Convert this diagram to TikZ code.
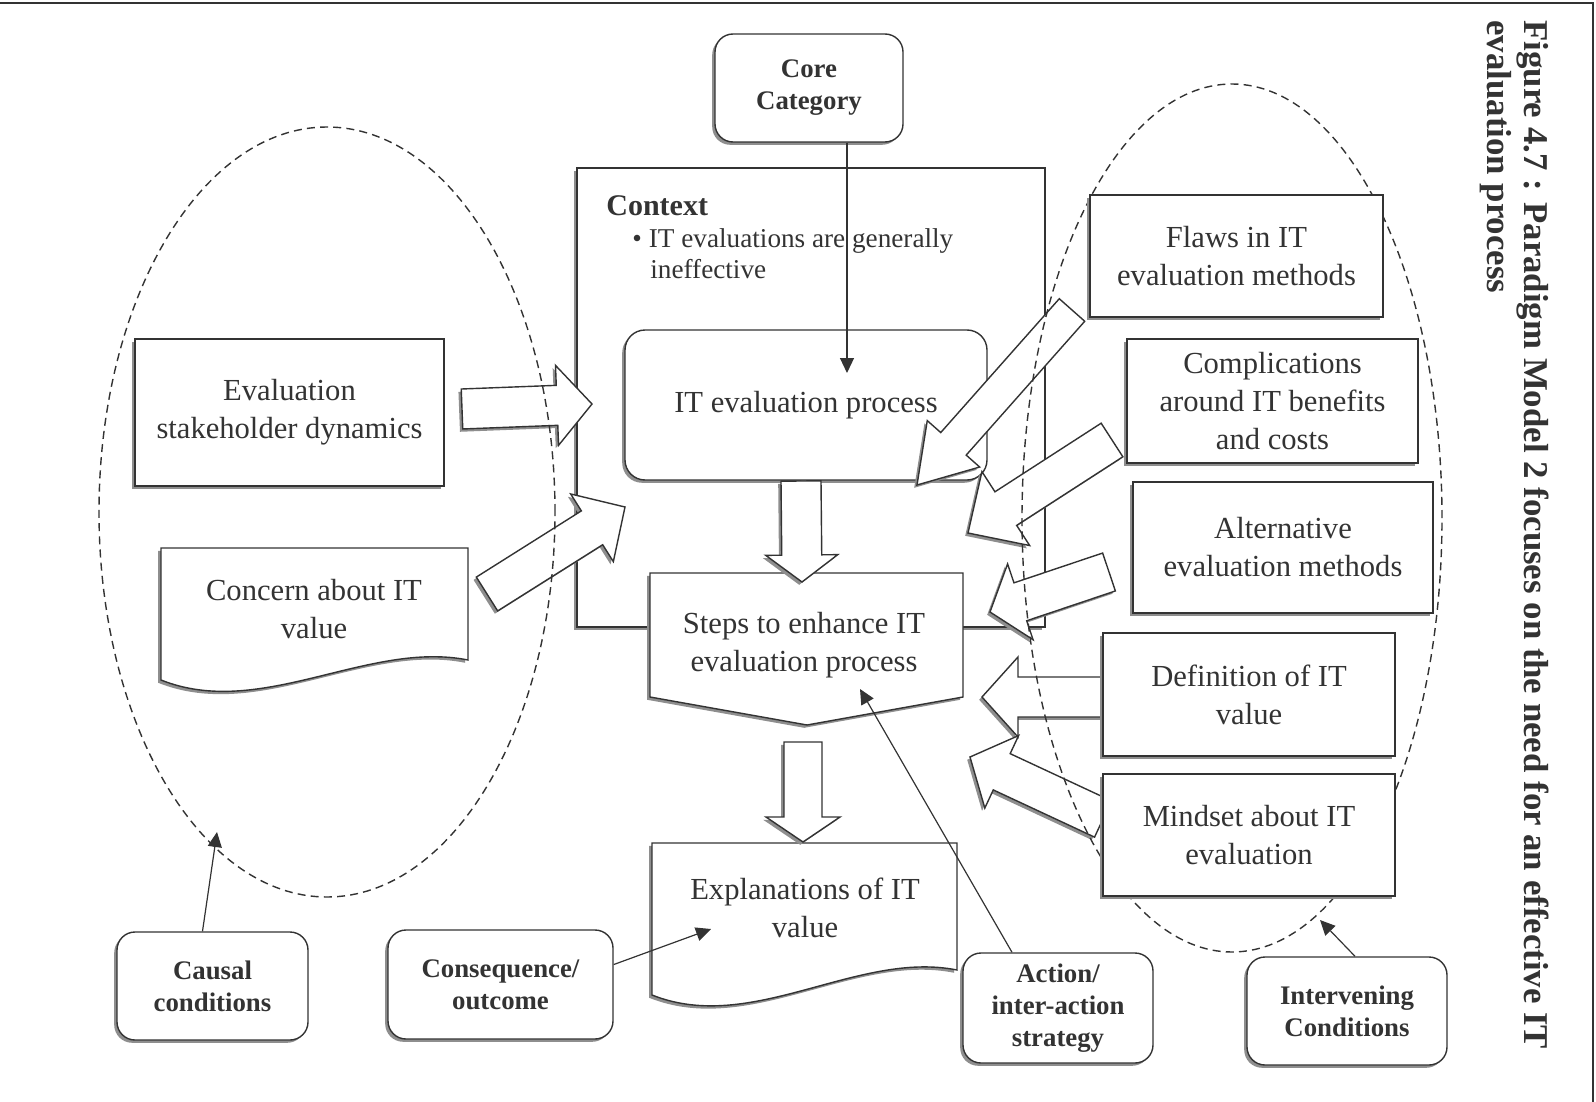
\documentclass[tikz,border=0pt]{standalone}
\usepackage{fontspec}
\setmainfont{Liberation Serif}
\usetikzlibrary{calc,shadows,arrows.meta}

\definecolor{ink}{HTML}{333333}
\definecolor{shade}{HTML}{8E8E8E}

\newcommand{\txtbody}{\fontsize{15.3pt}{19pt}\selectfont}
\newcommand{\txtlabel}{\fontsize{13.4pt}{16pt}\selectfont\bfseries}
\newcommand{\txtbullet}{\fontsize{13.6pt}{15.5pt}\selectfont}
\newcommand{\txtcaption}{\fontsize{17.4pt}{18.5pt}\selectfont\bfseries}

% wide hollow arrow: tail, tip, shaft half width, head half width, head length
\newcommand{\blockarrow}[5]{%
  \coordinate (hb) at ($(#2)!#5!(#1)$);
  \filldraw[outline] ($(#1)!#3!90:(#2)$) -- ($(hb)!#3!90:(#2)$) -- ($(hb)!#4!90:(#2)$)
    -- (#2) -- ($(hb)!#4!-90:(#2)$) -- ($(hb)!#3!-90:(#2)$) -- ($(#1)!#3!-90:(#2)$) -- cycle;
}

\begin{document}
\begin{tikzpicture}[x=0.5pt,y=-0.5pt,
  outline/.style={draw=ink, line width=0.7pt, fill=white,
    drop shadow={shadow xshift=-1.4pt, shadow yshift=-1.4pt, fill=shade, opacity=1}},
  plainbox/.style={outline, align=center, text=ink, font=\txtbody, inner sep=0pt},
  roundbox/.style={plainbox, rounded corners=10pt},
  labelbox/.style={outline, rounded corners=9pt, align=center, text=ink, font=\txtlabel, inner sep=0pt},
  txt/.style={text=ink, align=center, font=\txtbody, inner sep=0pt},
  pointer/.style={draw=ink, line width=0.6pt, -{Triangle[length=7.5pt,width=7pt]}},
  zone/.style={draw=ink, line width=0.7pt, dash pattern=on 4pt off 2.6pt},
]
\useasboundingbox (0,0) rectangle (1596,1102);

% page edges
\draw[ink, line width=1pt] (0,3) -- (1593,3) -- (1593,1102);

% context frame and the central chain
\node[outline, minimum width=234pt, minimum height=229.5pt, inner sep=0pt] (context) at (811,397.5) {};
\node[anchor=base west, text=ink, inner sep=0pt, font=\fontsize{15pt}{18pt}\selectfont\bfseries] (ctxtitle) at (606,215) {Context};
\node[anchor=base west, text=ink, inner sep=0pt, font=\txtbullet] (ctxline1) at (632,247) {•\hspace{3.5pt}IT evaluations are generally};
\node[anchor=base west, text=ink, inner sep=0pt, font=\txtbullet] (ctxline2) at (650,278) {ineffective};

\node[roundbox, minimum width=181pt, minimum height=75pt] (iteval) at (806,405) {IT evaluation process};

\draw[outline] (650,573) -- (963,573) -- (963,697) -- (807,725) -- (650,697) -- cycle;
\node[txt] (steps) at (804,645) {Steps to enhance IT\\evaluation process};

\draw[outline] (652,843) -- (957,843) -- (957,970) .. controls (857,950) and (752,1035) .. (652,995) -- cycle;
\node[txt] (explain) at (805,908) {Explanations of IT\\value};

% hollow arrows
\coordinate (a1s) at (462,409);  \coordinate (a1e) at (592,404);
\coordinate (a2s) at (487,594);  \coordinate (a2e) at (625,507);
\coordinate (a3s) at (801,481);  \coordinate (a3e) at (802,582);
\coordinate (a4s) at (803,742);  \coordinate (a4e) at (803,842);
\coordinate (a5s) at (1072,310); \coordinate (a5e) at (917,485);
\coordinate (a6s) at (1112,440); \coordinate (a6e) at (968,533);
\coordinate (a7s) at (1109,572); \coordinate (a7e) at (990,612);
\coordinate (a8s) at (1103,697); \coordinate (a8e) at (982,697);
\coordinate (a9s) at (1103,819); \coordinate (a9e) at (970,757);
\blockarrow{a3s}{a3e}{10pt}{18pt}{13.5pt}
\blockarrow{a4s}{a4e}{9.5pt}{18.5pt}{12.5pt}
\blockarrow{a1s}{a1e}{10pt}{20pt}{17.5pt}
\blockarrow{a2s}{a2e}{10pt}{20pt}{19.5pt}
\blockarrow{a5s}{a5e}{8.5pt}{17.5pt}{27.5pt}
\blockarrow{a6s}{a6e}{10pt}{22pt}{22.5pt}
\blockarrow{a7s}{a7e}{10pt}{20pt}{16pt}
\blockarrow{a8s}{a8e}{10pt}{20pt}{18pt}
\blockarrow{a9s}{a9e}{10pt}{20pt}{17.5pt}

% dashed groupings
\draw[zone] (327,512) ellipse [x radius=114pt, y radius=192.5pt];
\draw[zone] (1232,518) ellipse [x radius=105pt, y radius=217pt];

% causal conditions
\node[plainbox, minimum width=154.5pt, minimum height=73.5pt] (stake) at (289.5,412.5) {Evaluation\\stakeholder dynamics};
\draw[outline] (161,548) -- (468,548) -- (468,660) .. controls (368,640) and (261,720) .. (161,680) -- cycle;
\node[txt] (concern) at (314,609) {Concern about IT\\value};

% intervening conditions
\node[plainbox, minimum width=146.5pt, minimum height=61pt] (flaws) at (1236.5,256) {Flaws in IT\\evaluation methods};
\node[plainbox, minimum width=145.5pt, minimum height=62pt] (compl) at (1272.5,401) {Complications\\around IT benefits\\and costs};
\node[plainbox, minimum width=150pt, minimum height=65.5pt] (altern) at (1283,547.5) {Alternative\\evaluation methods};
\node[plainbox, minimum width=146pt, minimum height=61.5pt] (defin) at (1249,694.5) {Definition of IT\\value};
\node[plainbox, minimum width=146pt, minimum height=61pt] (mindset) at (1249,835) {Mindset about IT\\evaluation};

% paradigm labels
\node[labelbox, minimum width=94pt, minimum height=54pt] (core) at (809,88) {Core\\Category};
\node[labelbox, minimum width=95.5pt, minimum height=54pt] (causal) at (212.5,986) {Causal\\conditions};
\node[labelbox, minimum width=112.5pt, minimum height=54.5pt] (conseq) at (500.5,984.5) {Consequence/\\outcome};
\node[labelbox, minimum width=95pt, minimum height=55pt] (action) at (1058,1008) {Action/\\inter-action\\strategy};
\node[labelbox, minimum width=100pt, minimum height=54pt] (interv) at (1347,1011) {Intervening\\Conditions};

% label pointers
\coordinate (coretip) at (847,373);
\coordinate (causaltip) at (217,832);
\coordinate (conseqtip) at (711,929);
\coordinate (actiontip) at (860,689);
\coordinate (intervtip) at (1320,920);
\draw[pointer] (core.south -| coretip) -- (coretip);
\draw[pointer] ([xshift=-5pt]causal.north) -- (causaltip);
\draw[pointer] (conseq.10) -- (conseqtip);
\draw[pointer] ([xshift=-23pt]action.north) -- (actiontip);
\draw[pointer] ([xshift=4pt]interv.north) -- (intervtip);

% caption
\node[rotate=-90, anchor=north west, inner sep=0pt, align=left, text=ink, font=\txtcaption] (caption) at (1549,20)
  {Figure 4.7 : Paradigm Model 2 focuses on the need for an effective IT\\evaluation process};
\end{tikzpicture}
\end{document}
